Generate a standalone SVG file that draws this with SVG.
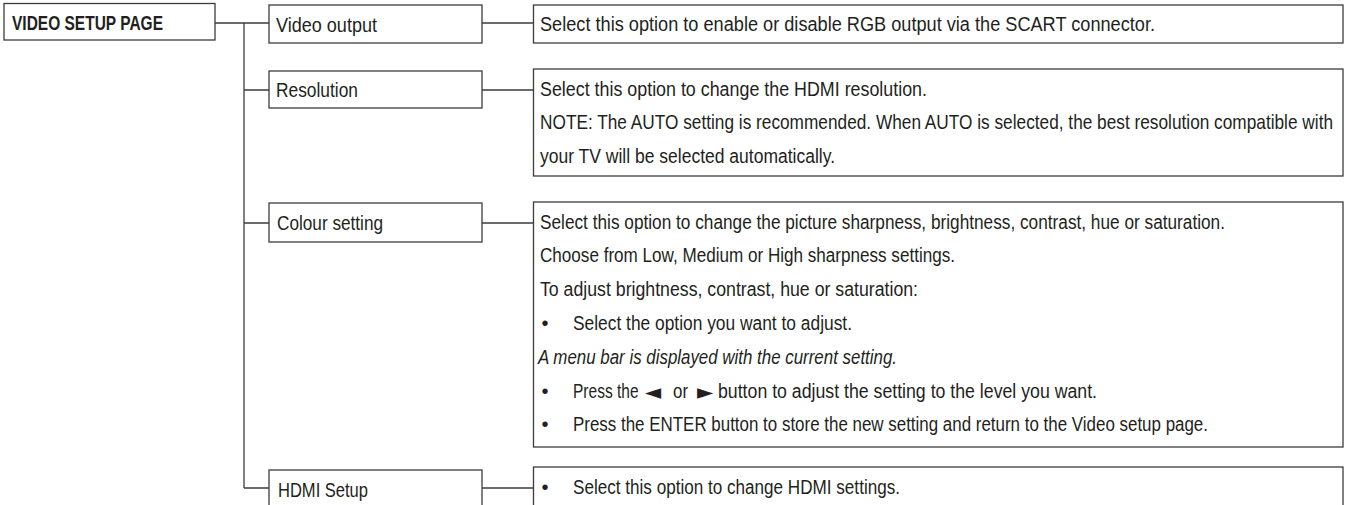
<svg xmlns="http://www.w3.org/2000/svg" width="1346" height="505" viewBox="0 0 1346 505">
<style>
.box{fill:#fff;stroke:#3c3c3c;stroke-width:1.3}
.ln{stroke:#3c3c3c;stroke-width:1.3;fill:none}
text{font-family:"Liberation Sans",Arial,sans-serif;font-size:20px;fill:#231f20}
.b{font-weight:bold}
.i{font-style:italic}
.sym{font-family:"DejaVu Sans",sans-serif;font-size:21px}
</style>
<rect width="1346" height="505" fill="#fff"/>
<g id="connectors">
<path class="ln" d="M215 23H244M244 23V488M244 23H269M244 90H269M244 223H269M244 488H269"/>
<path class="ln" d="M482 23H533.5M482 90H533.5M482 223H533.5M482 488H533.5"/>
</g>
<g id="root">
<rect class="box" x="4" y="3.5" width="211" height="36.5"/>
<text class="b" x="12" y="30" textLength="151" lengthAdjust="spacingAndGlyphs">VIDEO SETUP PAGE</text>
</g>
<g id="node-video-output">
<rect class="box" x="269" y="5" width="213" height="38"/>
<text x="276" y="31.5" textLength="101" lengthAdjust="spacingAndGlyphs">Video output</text>
</g>
<g id="desc-video-output">
<rect class="box" x="533.5" y="5" width="809.5" height="38"/>
<text x="540" y="30.5" textLength="615" lengthAdjust="spacingAndGlyphs">Select this option to enable or disable RGB output via the SCART connector.</text>
</g>
<g id="node-resolution">
<rect class="box" x="269" y="71" width="213" height="37"/>
<text x="276" y="97" textLength="82" lengthAdjust="spacingAndGlyphs">Resolution</text>
</g>
<g id="desc-resolution">
<rect class="box" x="533.5" y="69" width="809.5" height="107"/>
<text x="540" y="95.5" textLength="387" lengthAdjust="spacingAndGlyphs">Select this option to change the HDMI resolution.</text>
<text transform="matrix(0.865 0 0 1 540 129.3)" x="0" y="0" textLength="916.8" lengthAdjust="spacingAndGlyphs">NOTE: The AUTO setting is recommended. When AUTO is selected, the best resolution compatible with</text>
<text x="540" y="163" textLength="295" lengthAdjust="spacingAndGlyphs">your TV will be selected automatically.</text>
</g>
<g id="node-colour-setting">
<rect class="box" x="269" y="203" width="213" height="39"/>
<text x="277" y="230" textLength="106" lengthAdjust="spacingAndGlyphs">Colour setting</text>
</g>
<g id="desc-colour-setting">
<rect class="box" x="533.5" y="202" width="809.5" height="245"/>
<text x="540" y="228.5" textLength="685" lengthAdjust="spacingAndGlyphs">Select this option to change the picture sharpness, brightness, contrast, hue or saturation.</text>
<text x="540" y="262.3" textLength="415" lengthAdjust="spacingAndGlyphs">Choose from Low, Medium or High sharpness settings.</text>
<text x="540" y="296.1" textLength="378" lengthAdjust="spacingAndGlyphs">To adjust brightness, contrast, hue or saturation:</text>
<text x="541.5" y="329.9">•</text>
<text x="573" y="329.9" textLength="279" lengthAdjust="spacingAndGlyphs">Select the option you want to adjust.</text>
<text class="i" x="538" y="363.7" textLength="359" lengthAdjust="spacingAndGlyphs">A menu bar is displayed with the current setting.</text>
<text x="541.5" y="397.5">•</text>
<text transform="matrix(0.78 0 0 1 573 397.5)" x="0" y="0" textLength="84" lengthAdjust="spacingAndGlyphs">Press the</text>
<text class="sym" x="645" y="399">◄</text>
<text x="673" y="397.5" textLength="15" lengthAdjust="spacingAndGlyphs">or</text>
<text class="sym" x="697" y="399">►</text>
<text x="718" y="397.5" textLength="379" lengthAdjust="spacingAndGlyphs">button to adjust the setting to the level you want.</text>
<text x="541.5" y="431.3">•</text>
<text x="573" y="431.3" textLength="635" lengthAdjust="spacingAndGlyphs">Press the ENTER button to store the new setting and return to the Video setup page.</text>
</g>
<g id="node-hdmi-setup">
<rect class="box" x="269" y="470" width="213" height="40"/>
<text x="278" y="496.5" textLength="90" lengthAdjust="spacingAndGlyphs">HDMI Setup</text>
</g>
<g id="desc-hdmi-setup">
<rect class="box" x="533.5" y="467" width="809.5" height="60"/>
<text x="541.5" y="493.5">•</text>
<text x="573" y="493.5" textLength="327" lengthAdjust="spacingAndGlyphs">Select this option to change HDMI settings.</text>
</g>
</svg>
